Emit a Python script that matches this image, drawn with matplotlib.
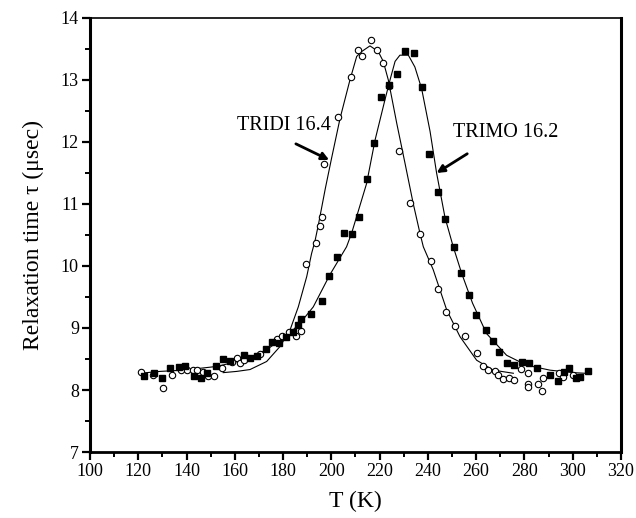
import numpy as np
import matplotlib
matplotlib.use("Agg")
from matplotlib import pyplot as plt
from matplotlib.ticker import MultipleLocator

# TRIDI 16.4 : open circles
tridi_T = [121.0, 126.0, 130.2, 134.0, 137.7, 140.3, 142.5, 144.5, 146.9, 149.0,
           151.2, 154.8, 159.0, 160.9, 162.3, 163.8, 170.4, 177.3, 179.4, 182.4,
           185.3, 187.4, 189.4, 193.6, 195.3, 196.2, 196.9, 202.7, 208.1, 211.2,
           212.8, 216.3, 219.1, 221.5, 223.7, 228.0, 232.6, 236.9, 241.1, 244.2,
           247.6, 251.1, 255.4, 260.2, 262.7, 264.8, 267.7, 268.9, 271.2, 273.6,
           275.5, 278.4, 281.3, 281.6, 281.6, 285.5, 287.1, 287.8, 294.4, 296.1,
           300.2]
tridi_tau = [8.29, 8.25, 8.04, 8.25, 8.33, 8.33, 8.33, 8.33, 8.29, 8.23,
             8.23, 8.36, 8.45, 8.51, 8.43, 8.48, 8.58, 8.83, 8.87, 8.93,
             8.87, 8.95, 10.03, 10.37, 10.65, 10.79, 11.65, 12.40, 13.05, 13.48,
             13.38, 13.65, 13.48, 13.27, 12.90, 11.85, 11.02, 10.52, 10.08, 9.63,
             9.25, 9.04, 8.87, 8.59, 8.38, 8.32, 8.30, 8.25, 8.18, 8.20,
             8.16, 8.34, 8.27, 8.10, 8.05, 8.09, 7.99, 8.19, 8.27, 8.21,
             8.24]

# TRIMO 16.2 : filled squares
trimo_T = [122.5, 126.6, 130.0, 133.1, 137.0, 139.5, 143.2, 146.0, 148.3, 152.1,
           155.2, 158.0, 163.8, 166.3, 169.1, 172.8, 175.5, 178.4, 181.1, 184.0,
           186.3, 187.5, 191.4, 196.0, 198.9, 202.2, 205.4, 208.7, 211.6, 214.6,
           217.6, 220.5, 223.9, 227.1, 230.5, 234.2, 237.4, 240.4, 244.0, 247.1,
           250.9, 253.7, 257.0, 259.9, 263.9, 266.8, 269.4, 272.6, 275.5, 279.1,
           281.9, 285.2, 290.7, 293.9, 296.4, 298.6, 301.4, 303.2, 306.2]
trimo_tau = [8.23, 8.28, 8.20, 8.35, 8.37, 8.39, 8.23, 8.20, 8.27, 8.38,
             8.50, 8.47, 8.56, 8.51, 8.55, 8.66, 8.78, 8.75, 8.85, 8.93,
             9.05, 9.14, 9.22, 9.44, 9.84, 10.14, 10.54, 10.52, 10.79, 11.40,
             11.98, 12.73, 12.92, 13.10, 13.47, 13.43, 12.88, 11.81, 11.20, 10.75,
             10.30, 9.89, 9.54, 9.21, 8.97, 8.79, 8.61, 8.43, 8.40, 8.45,
             8.43, 8.36, 8.25, 8.15, 8.29, 8.36, 8.19, 8.21, 8.31]

# fitted curves
fit_tridi_T = [155.2, 160.8, 166.3, 173.2, 178.7, 182.9, 186.3, 189.8, 191.8, 193.2,
               194.6, 197.5, 200.1, 203.6, 207.7, 210.5, 212.6, 216.0, 219.4, 221.5,
               223.6, 227.1, 230.5, 233.9, 236.7, 238.1, 242.2, 247.8, 253.3, 260.2,
               267.1, 275.4]
fit_tridi_tau = [8.28, 8.30, 8.33, 8.46, 8.70, 8.97, 9.34, 9.83, 10.20, 10.40,
                 10.66, 11.25, 11.74, 12.38, 13.00, 13.38, 13.46, 13.55, 13.46, 13.30,
                 13.00, 12.30, 11.66, 11.01, 10.53, 10.31, 9.94, 9.29, 8.86, 8.48,
                 8.32, 8.27]

fit_trimo_T = [120.7, 129.0, 138.7, 152.5, 163.5, 173.2, 182.9, 187.5, 192.5, 199.4,
               206.3, 208.4, 214.6, 218.1, 222.2, 224.3, 226.4, 228.4, 231.9, 234.6,
               237.4, 240.9, 243.6, 247.1, 250.5, 254.0, 258.5, 264.3, 272.6, 280.9,
               290.6, 300.2, 305.0]
fit_trimo_tau = [8.27, 8.30, 8.32, 8.38, 8.48, 8.65, 8.92, 9.10, 9.34, 9.86,
                 10.31, 10.53, 11.33, 12.03, 12.68, 13.00, 13.30, 13.40, 13.40, 13.21,
                 12.86, 12.17, 11.50, 10.78, 10.31, 9.88, 9.40, 8.91, 8.56, 8.40,
                 8.32, 8.28, 8.27]

# labels and arrow ends (data coords)
labels = ['TRIDI 16.4', 'TRIMO 16.2']
label_pos = [(180.4, 12.27), (272.3, 12.16)]
arrow_from = [(185.3, 11.97), (256.3, 11.81)]
arrow_to = [(199.1, 11.71), (243.6, 11.50)]

plt.rcParams['font.family'] = ['Liberation Serif', 'DejaVu Serif']

fig = plt.figure(figsize=(6.36, 5.18), dpi=100)
ax = fig.add_axes([0.1415, 0.1274, 0.8349, 0.8379])

ax.plot(fit_tridi_T, fit_tridi_tau, color='black', lw=0.8)
ax.plot(fit_trimo_T, fit_trimo_tau, color='black', lw=0.8)
ax.plot(tridi_T, tridi_tau, 'o', ms=4.6, mfc='white', mec='black', mew=0.8, ls='none')
ax.plot(trimo_T, trimo_tau, 's', ms=4.2, mfc='black', mec='black', ls='none')

for txt, pos, a0, a1 in zip(labels, label_pos, arrow_from, arrow_to):
    ax.text(pos[0], pos[1], txt, ha='center', va='center', fontsize=14.5)
    ax.annotate('', xy=a1, xytext=a0,
                arrowprops=dict(arrowstyle='-|>', color='black', lw=2.0,
                                shrinkA=0, shrinkB=0, mutation_scale=11))

ax.set_xlim(100, 320)
ax.set_ylim(7, 14)
ax.xaxis.set_major_locator(MultipleLocator(20))
ax.xaxis.set_minor_locator(MultipleLocator(10))
ax.yaxis.set_major_locator(MultipleLocator(1))
ax.yaxis.set_minor_locator(MultipleLocator(0.5))
ax.tick_params(which='major', direction='out', length=6, width=1.6, labelsize=13,
               top=False, right=False, pad=2)
ax.tick_params(which='minor', direction='out', length=3.5, width=1.4,
               top=False, right=False)

for side, w in (('left', 2.2), ('bottom', 2.0), ('right', 2.2), ('top', 1.2)):
    ax.spines[side].set_linewidth(w)

ax.set_xlabel('T (K)', fontsize=17, labelpad=8)
ax.set_ylabel('Relaxation time τ (μsec)', fontsize=17, labelpad=12)

fig.savefig('out.png', dpi=100)
